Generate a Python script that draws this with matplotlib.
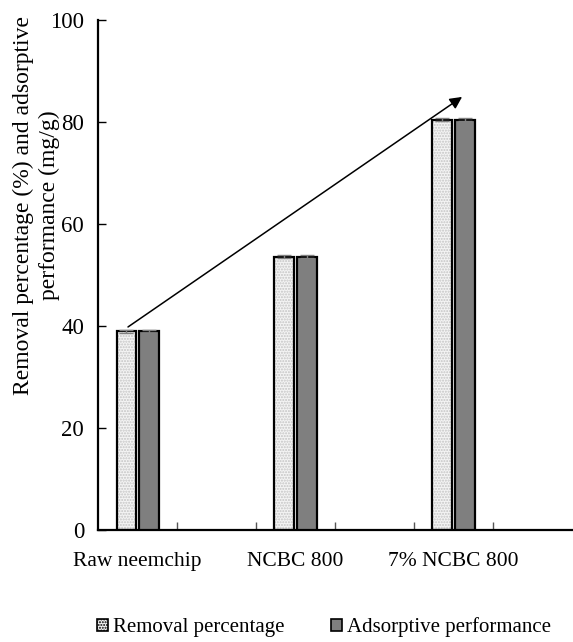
import numpy as np
import matplotlib
matplotlib.use("Agg")
import matplotlib.pyplot as plt

plt.rcParams['font.family'] = ['Liberation Serif', 'DejaVu Serif']

categories = ['Raw neemchip', 'NCBC 800', '7% NCBC 800']
removal = [39.0, 53.6, 80.4]
adsorptive = [39.0, 53.6, 80.4]
removal_err = [0.3, 0.3, 0.3]
adsorptive_err = [0.3, 0.3, 0.3]
yticks = [0, 20, 40, 60, 80, 100]

fig = plt.figure(figsize=(5.73, 6.42), dpi=100)
ax = fig.add_axes([0.171, 0.1745, 0.827, 0.7945])

# six category slots like the Excel original, data in every other one
pos = np.arange(len(categories)) * 2 + 0.5
w = 0.25

ax.bar(pos - 0.14, removal, w, color='#f4f4f4', hatch='......', edgecolor='#c4c4c4', linewidth=0, zorder=2)
ax.bar(pos - 0.14, removal, w, fill=False, edgecolor='black', linewidth=1.6, zorder=3)
ax.bar(pos + 0.15, adsorptive, w, color='#7f7f7f', edgecolor='black', linewidth=1.6, zorder=3)
ax.errorbar(pos - 0.14, removal, yerr=removal_err, fmt='none', ecolor='#808080', capsize=5, elinewidth=1, zorder=4)
ax.errorbar(pos + 0.15, adsorptive, yerr=adsorptive_err, fmt='none', ecolor='#808080', capsize=5, elinewidth=1, zorder=4)

# trend arrow
ax.annotate('', xy=(pos[2] + 0.11, 84.9), xytext=(pos[0] - 0.12, 39.8),
            arrowprops=dict(arrowstyle='-|>', color='black', lw=1.1, mutation_scale=18,
                            shrinkA=0, shrinkB=0))

ax.set_xlim(0, 6)
ax.set_ylim(0, 100)
ax.set_yticks(yticks)
ax.set_xticks(pos)
ax.set_xticklabels(categories)
ax.set_xticks(np.arange(1, 6), minor=True)
ax.tick_params(axis='x', which='major', length=0, pad=16, labelsize=15.5)
ax.tick_params(axis='x', which='minor', direction='in', length=6, width=1, color='#555555')
ax.tick_params(axis='y', direction='in', length=6, width=1, labelsize=16.5, pad=10)

for s in ['top', 'right']:
    ax.spines[s].set_visible(False)
for s in ['left', 'bottom']:
    ax.spines[s].set_linewidth(1.6)

ax.set_ylabel('Removal percentage (%) and adsorptive\nperformance (mg/g)', fontsize=17, linespacing=1.25)
ax.yaxis.set_label_coords(-0.081, 0.637)

h1 = plt.Rectangle((0, 0), 1, 1, facecolor='#f4f4f4', hatch='......', edgecolor='black', linewidth=1.2)
h2 = plt.Rectangle((0, 0), 1, 1, facecolor='#7f7f7f', edgecolor='black', linewidth=1.2)
fig.legend([h1, h2], ['Removal percentage', 'Adsorptive performance'], loc='center',
           bbox_to_anchor=(0.565, 0.023), ncol=2, frameon=False, fontsize=15,
           handlelength=0.55, handleheight=0.55, handletextpad=0.2, columnspacing=2.25,
           borderpad=0, borderaxespad=0)

fig.savefig('out.png', dpi=100)
